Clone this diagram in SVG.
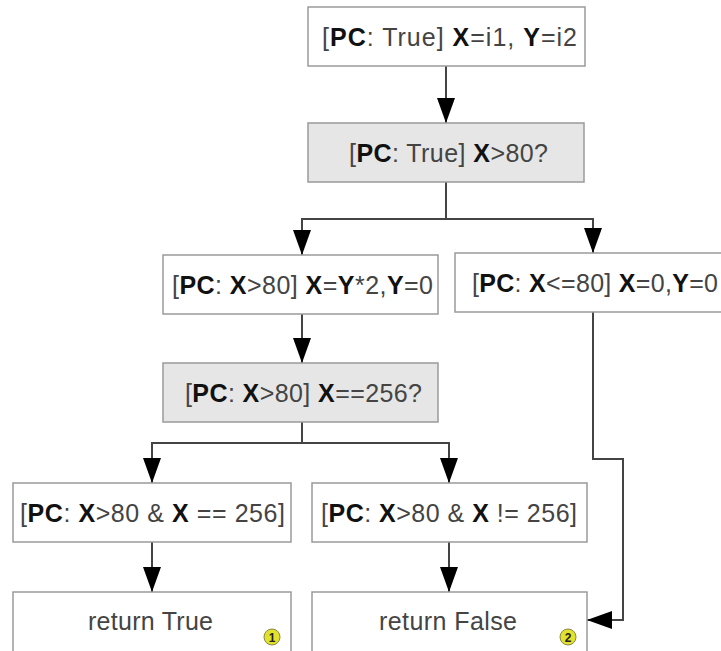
<svg xmlns="http://www.w3.org/2000/svg" width="721" height="651" viewBox="0 0 721 651">
<style>
.box{fill:#ffffff;stroke:#9a9a9a;stroke-width:1.5}
.dec{fill:#e6e6e6;stroke:#9a9a9a;stroke-width:1.5}
.t{font-family:"Liberation Sans",Arial,sans-serif;font-size:25px;fill:#444444;text-anchor:middle}
.b{font-weight:bold;fill:#111111}
.con{fill:none;stroke:#444444;stroke-width:2}
.badge{fill:#e2e22e;stroke:#8a8a40;stroke-width:1}
.bt{font-family:"Liberation Sans",Arial,sans-serif;font-size:12px;font-weight:bold;fill:#222222;text-anchor:middle}
</style>
<defs>
<marker id="arr" markerUnits="userSpaceOnUse" markerWidth="26" markerHeight="18" refX="25" refY="9" orient="auto">
<path d="M0,0 L25,9 L0,18 z" fill="#000000"/>
</marker>
</defs>
<rect width="721" height="651" fill="#ffffff"/>
<g id="connectors">
<path class="con" d="M446,66 V123" marker-end="url(#arr)"/>
<path class="con" d="M446,182 V219 H302 V255" marker-end="url(#arr)"/>
<path class="con" d="M446,219 H593 V253" marker-end="url(#arr)"/>
<path class="con" d="M302,314 V363" marker-end="url(#arr)"/>
<path class="con" d="M302,422 V443 H152 V483" marker-end="url(#arr)"/>
<path class="con" d="M302,443 H449 V483" marker-end="url(#arr)"/>
<path class="con" d="M152,542 V592" marker-end="url(#arr)"/>
<path class="con" d="M449,542 V592" marker-end="url(#arr)"/>
<path class="con" d="M593,312 V459 H623 V620 H587" marker-end="url(#arr)"/>
</g>
<g id="n1">
<rect class="box" x="308" y="7" width="277" height="59"/>
<text class="t" x="449.5" y="45.5" textLength="255" lengthAdjust="spacing">[<tspan class="b">PC</tspan>: True] <tspan class="b">X</tspan>=i1, <tspan class="b">Y</tspan>=i2</text>
</g>
<g id="n2">
<rect class="dec" x="308" y="123" width="276" height="59"/>
<text class="t" x="448.5" y="161.5" textLength="199" lengthAdjust="spacing">[<tspan class="b">PC</tspan>: True] <tspan class="b">X</tspan>&gt;80?</text>
</g>
<g id="n3">
<rect class="box" x="163" y="255" width="275" height="59"/>
<text class="t" x="302.5" y="293.5" textLength="261" lengthAdjust="spacing">[<tspan class="b">PC</tspan>: <tspan class="b">X</tspan>&gt;80] <tspan class="b">X</tspan>=<tspan class="b">Y</tspan>*2,<tspan class="b">Y</tspan>=0</text>
</g>
<g id="n4">
<rect class="box" x="455" y="253" width="280" height="59"/>
<text class="t" x="595" y="291.5" textLength="246" lengthAdjust="spacing">[<tspan class="b">PC</tspan>: <tspan class="b">X</tspan>&lt;=80] <tspan class="b">X</tspan>=0,<tspan class="b">Y</tspan>=0</text>
</g>
<g id="n5">
<rect class="dec" x="163" y="363" width="275" height="59"/>
<text class="t" x="303.5" y="401.5" textLength="237" lengthAdjust="spacing">[<tspan class="b">PC</tspan>: <tspan class="b">X</tspan>&gt;80] <tspan class="b">X</tspan>==256?</text>
</g>
<g id="n6">
<rect class="box" x="13" y="483" width="278" height="59"/>
<text class="t" x="152.5" y="521.5" textLength="265" lengthAdjust="spacing">[<tspan class="b">PC</tspan>: <tspan class="b">X</tspan>&gt;80 &amp; <tspan class="b">X</tspan> == 256]</text>
</g>
<g id="n7">
<rect class="box" x="312" y="483" width="275" height="59"/>
<text class="t" x="449" y="521.5" textLength="256" lengthAdjust="spacing">[<tspan class="b">PC</tspan>: <tspan class="b">X</tspan>&gt;80 &amp; <tspan class="b">X</tspan> != 256]</text>
</g>
<g id="n8">
<rect class="box" x="13" y="592" width="278" height="70"/>
<text class="t" x="150.5" y="630" textLength="125" lengthAdjust="spacing">return True</text>
<circle class="badge" cx="272" cy="637" r="8"/>
<text class="bt" x="272" y="641.5">1</text>
</g>
<g id="n9">
<rect class="box" x="312" y="592" width="275" height="70"/>
<text class="t" x="448" y="630" textLength="138" lengthAdjust="spacing">return False</text>
<circle class="badge" cx="568" cy="637" r="8"/>
<text class="bt" x="568" y="641.5">2</text>
</g>
</svg>
